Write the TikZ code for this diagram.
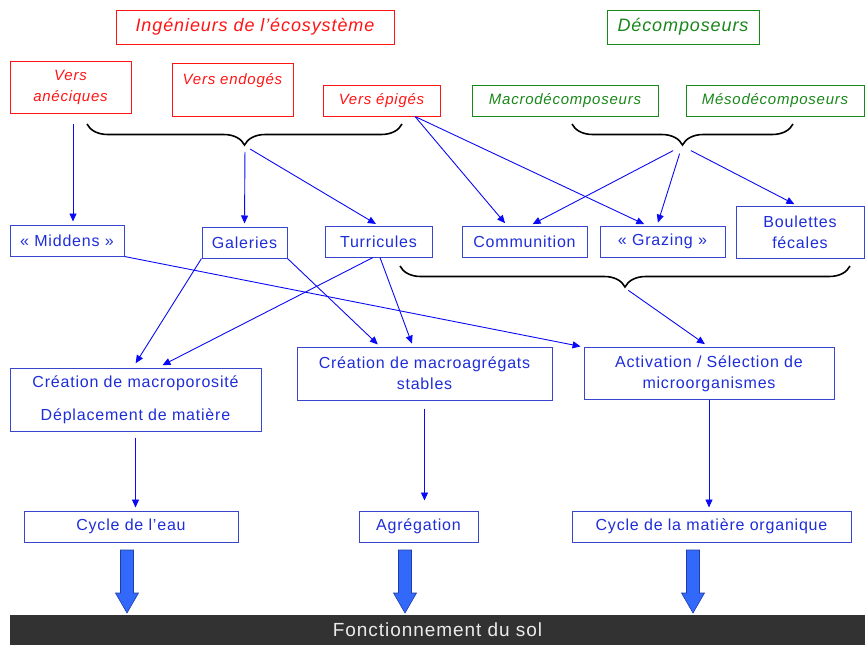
\documentclass[tikz,border=0pt]{standalone}
\usepackage{fontspec}
\setmainfont{Liberation Sans}[LetterSpace=5]
\usetikzlibrary{positioning,calc,arrows.meta,decorations.pathreplacing}
\definecolor{ingred}{RGB}{255,20,20}
\definecolor{decgreen}{RGB}{25,135,25}
\definecolor{procblue}{RGB}{30,45,215}
\definecolor{boxblue}{RGB}{55,70,205}
\definecolor{linkblue}{RGB}{10,10,245}
\definecolor{fatblue}{RGB}{50,105,250}
\definecolor{fatedge}{RGB}{30,60,170}
\definecolor{solgray}{RGB}{50,50,50}

\begin{document}
\begin{tikzpicture}[x=1pt,y=-1pt,on grid,
    ing/.style={draw=ingred,text=ingred,line width=1pt,inner sep=0pt,align=center,
      font=\fontsize{15}{21}\selectfont\itshape},
    dec/.style={ing,draw=decgreen,text=decgreen},
    titre/.style={font=\fontsize{18}{21}\selectfont\itshape},
    proc/.style={draw=boxblue,text=procblue,line width=1pt,inner sep=0pt,align=center,
      font=\fontsize{16}{21}\selectfont},
    link/.style={color=linkblue,line width=0.9pt,-{Triangle[length=8pt,width=7pt]},shorten >=3pt},
    accol/.style={draw=black,line width=1.6pt,decorate,decoration={brace,mirror,amplitude=21pt}},
    fat/.style={draw=fatedge,fill=fatblue,line width=0.6pt}]
  \useasboundingbox (0,0) rectangle (865,645);

  % groupes
  \node[ing,titre,minimum width=278,minimum height=34] (ingen) at (255,27) {Ingénieurs de l’écosystème};
  \node[dec,titre,minimum width=152,minimum height=34] (decomp) [right=428pt of ingen] {Décomposeurs};
  \node[ing,minimum width=121,minimum height=52] (anec) at (70.5,87) {Vers\\anéciques};
  \node[ing,minimum width=121,minimum height=53] (endo) at (232.5,89.5) {Vers endogés\\\mbox{}};
  \node[ing,minimum width=117,minimum height=31] (epi) at (381.5,100.5) {Vers épigés};
  \node[dec,minimum width=186,minimum height=31] (macro) [right=183.5pt of epi] {Macrodécomposeurs};
  \node[dec,minimum width=178,minimum height=31] (meso) [right=210pt of macro] {Mésodécomposeurs};

  % accolades
  \draw[accol] (87,124) -- (402,124);
  \draw[accol] (572,124) -- (793,124);
  \draw[accol] (400,266) -- (850,266);
  \coordinate (bi) at (245,146);
  \coordinate (bd) at (682,146);
  \coordinate (bb) at (625,288);

  % activites
  \node[proc,minimum width=114,minimum height=31] (midd) at (67,240.5) {« Middens »};
  \node[proc,minimum width=85,minimum height=31] (gal) at (244.5,242.5) {Galeries};
  \node[proc,minimum width=107,minimum height=31] (turr) at (378.5,241.5) {Turricules};
  \node[proc,minimum width=125,minimum height=31] (comm) [right=146pt of turr] {Communition};
  \node[proc,minimum width=125,minimum height=31] (graz) [right=138pt of comm] {« Grazing »};
  \node[proc,minimum width=128,minimum height=52] (boul) at (800,232) {Boulettes\\fécales};

  % effets
  \node[proc,minimum width=251,minimum height=63] (poro) at (135.5,399.5)
    {Création de macroporosité\\[12pt]Déplacement de matière};
  \node[proc,minimum width=255,minimum height=53] (agr) at (424.5,373.5)
    {Création de macroagrégats\\stables};
  \node[proc,minimum width=250,minimum height=52] (act) [right=284.5pt of agr]
    {Activation / Sélection de\\microorganismes};

  % cycles
  \node[proc,minimum width=214,minimum height=31] (eau) at (131,526.5) {Cycle de l’eau};
  \node[proc,minimum width=119,minimum height=31] (agreg) [right=287.5pt of eau] {Agrégation};
  \node[proc,minimum width=279,minimum height=31] (cmo) [right=293pt of agreg] {Cycle de la matière organique};

  \node[fill=solgray,text=white!92!black,minimum width=855,minimum height=30,inner sep=0pt,
    font=\fontsize{19}{21}\selectfont] (sol) at (437.5,630) {Fonctionnement du sol};

  \path[link]
    ($(anec.south)+(2.5,10)$) edge ($(midd.north)+(6,0)$)
    (bi) edge[shorten <=6pt] (gal.north)
    (bi) edge[shorten <=6pt] (turr.north)
    ($(epi.south)+(33.5,0)$) edge ($(comm.north)+(-17.5,0)$)
    ($(epi.south)+(33.5,0)$) edge ($(graz.north)+(-15.5,0)$)
    (bd) edge[shorten <=10pt] ($(comm.north)+(5.5,0)$)
    (bd) edge[shorten <=8pt] ($(graz.north)+(-5.5,0)$)
    (bd) edge[shorten <=10pt] ($(boul.north)+(-3,0)$)
    (midd.south east) edge (act.north west)
    (gal.south west) edge[shorten >=5pt] ($(poro.north)+(-2.5,0)$)
    (gal.south east) edge ($(agr.north)+(-44.5,0)$)
    ($(turr.south)+(-5.5,0)$) edge[shorten >=5pt] ($(poro.north)+(22.5,0)$)
    ($(turr.south)+(1.5,0)$) edge ($(agr.north)+(-11.5,0)$)
    (bb) edge[shorten <=4pt,shorten >=5pt] (act.north)
    (poro.south) edge[shorten <=6pt] (poro.south |- eau.north)
    (agr.south) edge[shorten <=8pt,shorten >=10pt] (agr.south |- agreg.north)
    (act.south) edge (act.south |- cmo.north);

  % fleches larges
  \foreach \x in {127,405,693}
    \draw[fat] (\x-6.5,550) -- (\x+6.5,550) -- (\x+6.5,593) -- (\x+11.5,593)
      -- (\x,613) -- (\x-11.5,593) -- (\x-6.5,593) -- cycle;
\end{tikzpicture}
\end{document}
